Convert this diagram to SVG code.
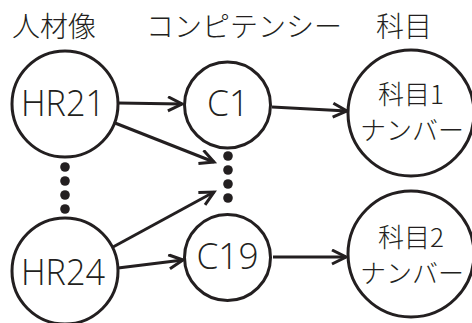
<svg xmlns="http://www.w3.org/2000/svg" width="472" height="323" viewBox="0 0 472 323">
<style>
.node{fill:#fff;stroke:#231f20;stroke-width:3}
.lat{font-family:"Open Sans","Noto Sans",sans-serif;font-weight:300;font-size:36px;fill:#231f20;text-anchor:middle}
.jp{font-family:"Noto Sans CJK JP",sans-serif;font-weight:300;font-size:26px;fill:#231f20;text-anchor:middle}
.hd{font-family:"Noto Sans CJK JP",sans-serif;font-weight:300;font-size:28px;fill:#231f20}
.edge{fill:none;stroke:#231f20;stroke-width:3}
.dot{fill:#231f20}
</style>
<defs>
<marker id="arr" markerWidth="18" markerHeight="18" refX="15" refY="8" orient="auto" markerUnits="userSpaceOnUse">
<path d="M1,1 L15,8 L1,15" fill="none" stroke="#231f20" stroke-width="3"/>
</marker>
</defs>
<g id="headers">
<text class="hd" x="12" y="37">人材像</text>
<text class="hd" x="146" y="37">コンピテンシー</text>
<text class="hd" x="376" y="37">科目</text>
</g>
<g id="connectors">
<line class="edge" x1="118" y1="103" x2="182" y2="104" marker-end="url(#arr)"/>
<line class="edge" x1="115" y1="123" x2="214" y2="162" marker-end="url(#arr)"/>
<line class="edge" x1="113" y1="247" x2="214" y2="192" marker-end="url(#arr)"/>
<line class="edge" x1="118" y1="268" x2="183" y2="260" marker-end="url(#arr)"/>
<line class="edge" x1="272" y1="107" x2="347" y2="111" marker-end="url(#arr)"/>
<line class="edge" x1="273" y1="257" x2="346" y2="257" marker-end="url(#arr)"/>
</g>
<g id="dots-hr">
<circle class="dot" cx="65" cy="167" r="4.8"/>
<circle class="dot" cx="65" cy="181" r="4.8"/>
<circle class="dot" cx="65" cy="195" r="4.8"/>
<circle class="dot" cx="65" cy="209" r="4.8"/>
</g>
<g id="dots-c">
<circle class="dot" cx="228" cy="156" r="4.8"/>
<circle class="dot" cx="228" cy="170" r="4.8"/>
<circle class="dot" cx="228" cy="184" r="4.8"/>
<circle class="dot" cx="228" cy="198" r="4.8"/>
</g>
<g id="HR21">
<circle class="node" cx="65" cy="104" r="53"/>
<text class="lat" x="63" y="116" textLength="84" lengthAdjust="spacingAndGlyphs">HR21</text>
</g>
<g id="HR24">
<circle class="node" cx="65" cy="271" r="53"/>
<text class="lat" x="63" y="285" textLength="84" lengthAdjust="spacingAndGlyphs">HR24</text>
</g>
<g id="C1">
<circle class="node" cx="227.5" cy="105" r="43"/>
<text class="lat" x="228" y="116" textLength="42" lengthAdjust="spacingAndGlyphs">C1</text>
</g>
<g id="C19">
<circle class="node" cx="227.5" cy="257.5" r="43"/>
<text class="lat" x="227.5" y="269" textLength="62" lengthAdjust="spacingAndGlyphs">C19</text>
</g>
<g id="subject1">
<circle class="node" cx="411" cy="113" r="63"/>
<text class="jp" x="411" y="104">科目1</text>
<text class="jp" x="412" y="140">ナンバー</text>
</g>
<g id="subject2">
<circle class="node" cx="411" cy="254" r="63"/>
<text class="jp" x="411" y="247">科目2</text>
<text class="jp" x="412" y="283">ナンバー</text>
</g>
</svg>
